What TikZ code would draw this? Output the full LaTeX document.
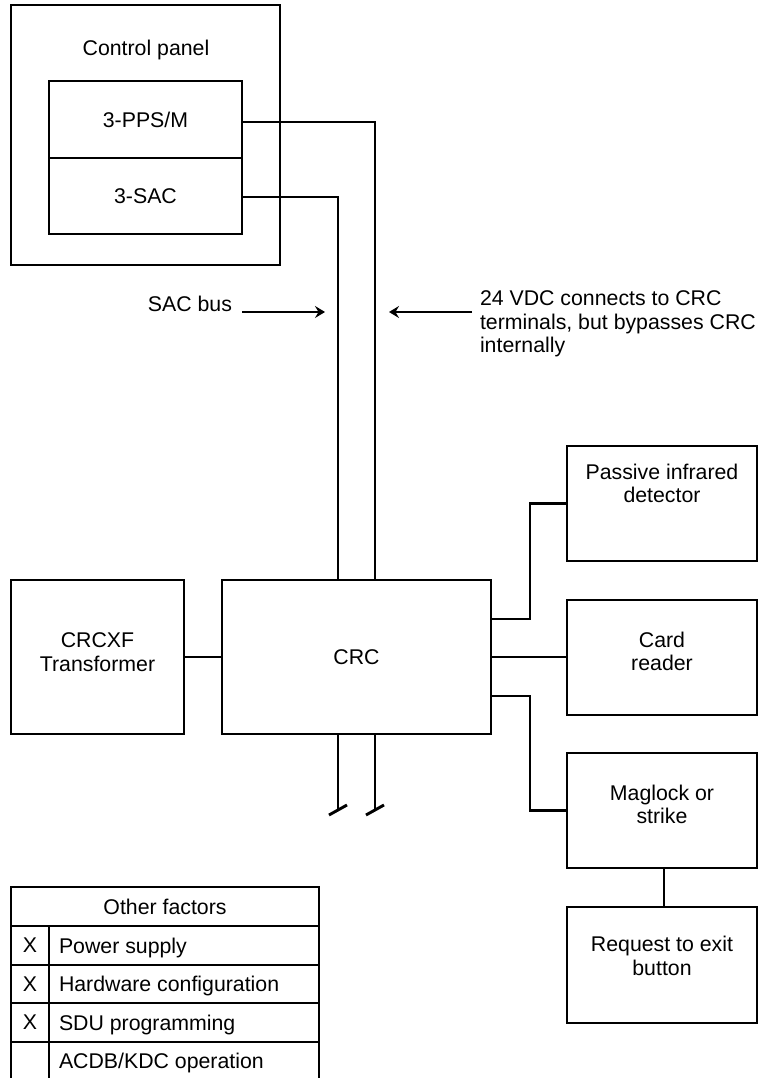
\documentclass[tikz,border=0pt]{standalone}
\usepackage{fontspec}
\setmainfont{Liberation Sans}
\usetikzlibrary{arrows.meta,calc}
\begin{document}
\begin{tikzpicture}[x=1pt,y=-1pt,
  every node/.style={font=\fontsize{21.3}{23.5}\selectfont, inner sep=0pt, outer sep=0pt},
  box/.style={draw, line width=2.9pt, anchor=north west, align=center},
  txt/.style={align=center},
  wire/.style={line width=2.9pt},
  arr/.style={line width=2.9pt, -{Stealth[length=10pt,width=12pt,inset=3.5pt]}}]
\useasboundingbox (0,0) rectangle (760,1078);

% control panel
\node[box, minimum width=269pt, minimum height=260pt] (panel) at (11,5) {};
\node[txt] (paneltxt) at (146,50) {Control panel};
\node[box, minimum width=193pt, minimum height=77pt] (pps) at (49,81) {3-PPS/M};
\node[box, minimum width=193pt, minimum height=76pt] (sac) at (49,158) {3-SAC};

% CRC and transformer
\node[box, minimum width=173pt, minimum height=154pt] (crcxf) at (11,580) {};
\node[txt] (crcxftxt) at ($(crcxf.center)+(0,-5)$) {CRCXF\\Transformer};
\node[box, minimum width=269pt, minimum height=154pt] (crc) at (222,580) {CRC};

% right devices
\node[box, minimum width=190pt, minimum height=115pt] (pir) at (567,446) {};
\node[txt] (pirtxt) at ($(pir.center)+(0,-20)$) {Passive infrared\\detector};
\node[box, minimum width=190pt, minimum height=115pt] (card) at (567,600) {};
\node[txt] (cardtxt) at ($(card.center)+(0,-6)$) {Card\\reader};
\node[box, minimum width=190pt, minimum height=115pt] (mag) at (567,753) {};
\node[txt] (magtxt) at ($(mag.center)+(0,-6)$) {Maglock or\\strike};
\node[box, minimum width=190pt, minimum height=116pt] (rex) at (567,907) {};
\node[txt] (rextxt) at ($(rex.center)+(0,-9)$) {Request to exit\\button};

% buses
\draw[wire] ([yshift=-2.5pt]pps.east) -| ([xshift=18.5pt]crc.north);
\draw[wire] ([yshift=-1pt]sac.east) -| ([xshift=-18.5pt]crc.north);
\draw[wire] (crcxf.east) -- (crc.west);
\draw[wire] ([yshift=38pt]crc.east) -- ++(39,0) |- (pir.west);
\draw[wire] (crc.east) -- (crc.east -| card.west);
\draw[wire] ([yshift=-39pt]crc.east) -- ++(39,0) |- (mag.west);
\draw[wire] ([xshift=2pt]mag.south) -- ([xshift=2pt]rex.north);

% cut stubs
\draw[wire] ([xshift=-18.5pt]crc.south) -- ++(0,76) coordinate (s1);
\draw[wire] ([xshift=18.5pt]crc.south) -- ++(0,76) coordinate (s2);
\draw[wire] ($(s1)+(-9,5)$) -- ($(s1)+(9,-5)$);
\draw[wire] ($(s2)+(-9,5)$) -- ($(s2)+(9,-5)$);

% annotations
\coordinate (a1s) at (242,312);
\coordinate (a1e) at (325,312);
\draw[arr] (a1s) -- (a1e);
\node[anchor=base east] (sacbus) at (232,311) {SAC bus};
\coordinate (a2s) at (472,312);
\coordinate (a2e) at (389,312);
\draw[arr] (a2s) -- (a2e);
\node[anchor=north west, align=left] (vdc) at (480,291) {24 VDC connects to CRC\\terminals, but bypasses CRC\\internally};

% table
\draw[wire] (11,1082) -- (11,887) -- (319,887) -- (319,1082);
\foreach \yy in {926,965,1003,1042} \draw[wire] (11,\yy) -- (319,\yy);
\draw[wire] (49,926) -- (49,1082);
\node (th) at (165,906.5) {Other factors};
\node (x1) at (30,945.5) {X};
\node (x2) at (30,984) {X};
\node (x3) at (30,1022.5) {X};
\node[anchor=base west] (r1) at (59,953) {Power supply};
\node[anchor=base west] (r2) at (59,991.5) {Hardware configuration};
\node[anchor=base west] (r3) at (59,1030) {SDU programming};
\node[anchor=base west] (r4) at (59,1068) {ACDB/KDC operation};
\end{tikzpicture}
\end{document}
